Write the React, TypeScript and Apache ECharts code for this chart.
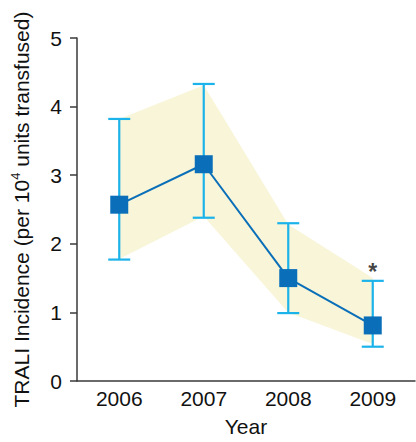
import React, { useEffect, useRef } from "react";
import * as echarts from "echarts";

const years = ["2006", "2007", "2008", "2009"];
const incidence = [2.57, 3.16, 1.5, 0.81];
const errLow = [1.77, 2.38, 0.99, 0.5];
const errHigh = [3.82, 4.33, 2.3, 1.46];
const bandLow = [1.78, 2.4, 1.0, 0.54];
const bandHigh = [3.82, 4.31, 2.28, 1.5];
const yTicks = [0, 1, 2, 3, 4, 5];
const annotations = [{ year: "2009", value: 1.46, text: "*" }];

const FONT = "Liberation Sans, Arial, Helvetica, sans-serif";
const AXIS = "#3a3a3a";

export default function App() {
  const ref = useRef<HTMLDivElement>(null);
  useEffect(() => {
    if (!ref.current) return;
    const chart = echarts.init(ref.current, null, { renderer: "svg" });
    chart.setOption({
      animation: false,
      textStyle: { fontFamily: FONT },
      grid: { left: 77, right: 1, top: 38, bottom: 55 },
      xAxis: {
        type: "category",
        data: years,
        boundaryGap: true,
        axisLine: { lineStyle: { color: AXIS, width: 1.5 } },
        axisTick: { show: false },
        axisLabel: { color: "#111", fontSize: 21, margin: 7, fontFamily: FONT },
        name: "Year",
        nameLocation: "middle",
        nameGap: 35,
        nameTextStyle: { color: "#111", fontSize: 21, fontFamily: FONT },
      },
      yAxis: {
        type: "value",
        min: yTicks[0],
        max: yTicks[yTicks.length - 1],
        interval: 1,
        splitLine: { show: false },
        axisLine: { show: true, lineStyle: { color: AXIS, width: 1.5 } },
        axisTick: { show: true, length: 7, lineStyle: { color: AXIS, width: 1.5 } },
        axisLabel: { color: "#111", fontSize: 21, margin: 15, fontFamily: FONT },
        name: "{a|TRALI Incidence (per 10}{s|4}{a| units transfused)}",
        nameLocation: "middle",
        nameRotate: 90,
        nameGap: 43,
        nameTextStyle: {
          color: "#111",
          fontFamily: FONT,
          rich: {
            a: { fontSize: 21, lineHeight: 25, color: "#111", fontFamily: FONT },
            s: { fontSize: 13, lineHeight: 25, verticalAlign: "top", color: "#111", fontFamily: FONT, padding: [0, 0, 11, 0] },
          },
        },
      },
      series: [
        {
          type: "custom",
          name: "band",
          z: 1,
          data: [[0]],
          renderItem: (params: any, api: any) => {
            const top = years.map((y, i) => api.coord([i, bandHigh[i]]));
            const bot = years.map((y, i) => api.coord([i, bandLow[i]])).reverse();
            return {
              type: "polygon",
              shape: { points: top.concat(bot) },
              style: { fill: "#f8f5d8", stroke: "none" },
            };
          },
        },
        {
          type: "custom",
          name: "errors",
          z: 2,
          data: years.map((y, i) => [i, errLow[i], errHigh[i]]),
          renderItem: (params: any, api: any) => {
            const x = api.value(0);
            const lo = api.coord([x, api.value(1)]);
            const hi = api.coord([x, api.value(2)]);
            const hw = 11;
            const style = { stroke: "#1cb3ea", lineWidth: 2.2 };
            return {
              type: "group",
              children: [
                { type: "line", shape: { x1: lo[0], y1: lo[1], x2: hi[0], y2: hi[1] }, style },
                { type: "line", shape: { x1: lo[0] - hw, y1: lo[1], x2: lo[0] + hw, y2: lo[1] }, style },
                { type: "line", shape: { x1: hi[0] - hw, y1: hi[1], x2: hi[0] + hw, y2: hi[1] }, style },
              ],
            };
          },
        },
        {
          type: "line",
          name: "TRALI",
          z: 3,
          data: incidence,
          symbol: "rect",
          symbolSize: 18,
          lineStyle: { color: "#0a6fb8", width: 2 },
          itemStyle: { color: "#0a6fb8" },
        },
        {
          type: "scatter",
          name: "annot",
          z: 4,
          symbolSize: 0,
          data: annotations.map((a) => ({ value: [a.year, a.value], label: { formatter: a.text } })),
          label: {
            show: true,
            position: "top",
            distance: -3,
            color: "#111",
            fontSize: 23,
            fontWeight: "bold",
            fontFamily: FONT,
          },
        },
      ],
    });
    return () => chart.dispose();
  }, []);
  return <div ref={ref} style={{ width: 416, height: 442, position: "absolute", left: 0, top: 0 }} />;
}
